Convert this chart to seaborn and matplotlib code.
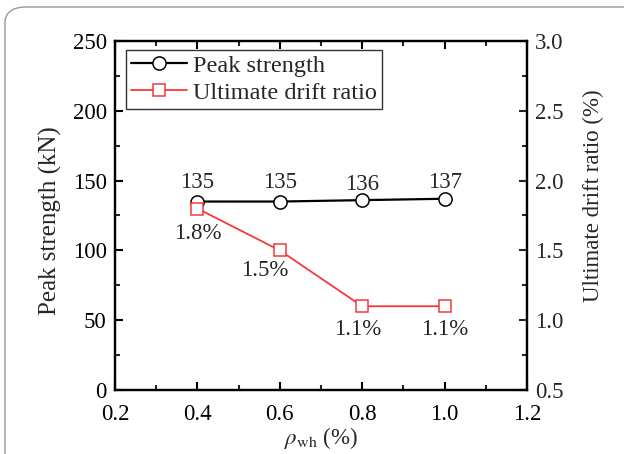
import matplotlib
matplotlib.use("Agg")
import matplotlib.pyplot as plt
import seaborn as sns
import pandas as pd
from matplotlib.patches import FancyBboxPatch
from matplotlib.ticker import MultipleLocator

rho = [0.4, 0.6, 0.8, 1.0]
peak = [135, 135, 136, 137]
drift = [1.8, 1.5, 1.1, 1.1]
peak_labels = ["135", "135", "136", "137"]
drift_labels = ["1.8%", "1.5%", "1.1%", "1.1%"]

# label offsets (points) - styling only
peak_off = [(0, 6), (0, 6), (0, 3.5), (0, 4)]
drift_off = [(0, -10.5), (-11, -7), (-3.5, -9.5), (0, -9.5)]

sns.set_theme(style="ticks")
plt.rcParams['font.family'] = ['Liberation Serif', 'DejaVu Serif']
plt.rcParams['mathtext.fontset'] = 'stix'

df = pd.DataFrame({"rho": rho, "peak": peak, "drift": drift})

fig = plt.figure(figsize=(6.24, 4.54), dpi=100)
border = FancyBboxPatch((5/624, -0.2), 1.2, 1.2 - 7/454,
                        boxstyle="round,pad=0,rounding_size=0.035",
                        transform=fig.transFigure, facecolor="none",
                        edgecolor="#999999", linewidth=1.0, zorder=0)
fig.patches.append(border)

L, R, T, B = 115, 527, 41, 390
ax = fig.add_axes([L/624, 1-B/454, (R-L)/624, (B-T)/454])
ax2 = ax.twinx()

red = "#f23a3a"
sns.lineplot(data=df, x="rho", y="peak", ax=ax, color="black", marker="o",
             markersize=9.5, markerfacecolor="white", markeredgecolor="black",
             markeredgewidth=1.1, linewidth=1.6, label="Peak strength", legend=False)
sns.lineplot(data=df, x="rho", y="drift", ax=ax2, color=red, marker="s",
             markersize=8.5, markerfacecolor="white", markeredgecolor=red,
             markeredgewidth=1.1, linewidth=1.3, label="Ultimate drift ratio", legend=False)

ax.xaxis.set_major_locator(MultipleLocator(0.2))
ax.xaxis.set_minor_locator(MultipleLocator(0.1))
ax.yaxis.set_major_locator(MultipleLocator(50))
ax.yaxis.set_minor_locator(MultipleLocator(25))
ax2.yaxis.set_major_locator(MultipleLocator(0.5))
ax2.yaxis.set_minor_locator(MultipleLocator(0.25))
ax.set_xlim(0.2, 1.2)
ax.set_ylim(0, 250)
ax2.set_ylim(0.5, 3.0)
ax.xaxis.set_major_formatter(matplotlib.ticker.FormatStrFormatter("%.1f"))
ax2.yaxis.set_major_formatter(matplotlib.ticker.FormatStrFormatter("%.1f"))

fs = 16.5
ax.tick_params(axis="both", which="major", direction="in", length=6, width=1.5,
               labelsize=fs, top=True, colors="black")
ax.tick_params(axis="x", which="major", pad=10)
ax.tick_params(axis="y", which="major", pad=6)
ax.tick_params(axis="both", which="minor", direction="in", length=3.5, width=1.5, top=True)
ax.tick_params(axis="y", which="both", right=False)
ax2.tick_params(axis="y", which="major", direction="in", length=6, width=1.5,
                labelsize=fs, pad=6)
ax2.tick_params(axis="y", which="minor", direction="in", length=3.5, width=1.5)
for a in (ax, ax2):
    for s in a.spines.values():
        s.set_linewidth(1.6)
        s.set_color("black")

ax.set_xlabel(r"$\rho_{\rm wh}$ (%)", fontsize=fs, labelpad=0)
ax.set_ylabel("Peak strength (kN)", fontsize=18)
ax2.set_ylabel("Ultimate drift ratio (%)", fontsize=16.5)
ax.yaxis.set_label_coords((62 - L) / (R - L), 0.484)
ax2.yaxis.set_label_coords((583 - L) / (R - L), 0.556)

for x, y, t, o in zip(rho, peak, peak_labels, peak_off):
    ax.annotate(t, (x, y), xytext=o, textcoords="offset points",
                ha="center", va="bottom", fontsize=fs)
for x, y, t, o in zip(rho, drift, drift_labels, drift_off):
    ax2.annotate(t, (x, y), xytext=o, textcoords="offset points",
                 ha="center", va="top", fontsize=fs)

h1, l1 = ax.get_legend_handles_labels()
h2, l2 = ax2.get_legend_handles_labels()
leg = ax2.legend(h1 + h2, l1 + l2, loc="upper left",
                 bbox_to_anchor=((126 - L) / (R - L), 1 - 9 / (B - T)),
                 fontsize=17.5, frameon=True, fancybox=False, edgecolor="black",
                 handlelength=2.3, handletextpad=0.25, borderpad=0.2,
                 labelspacing=0.2, borderaxespad=0)
leg.get_frame().set_linewidth(1.0)

fig.savefig("out.png", dpi=100)
